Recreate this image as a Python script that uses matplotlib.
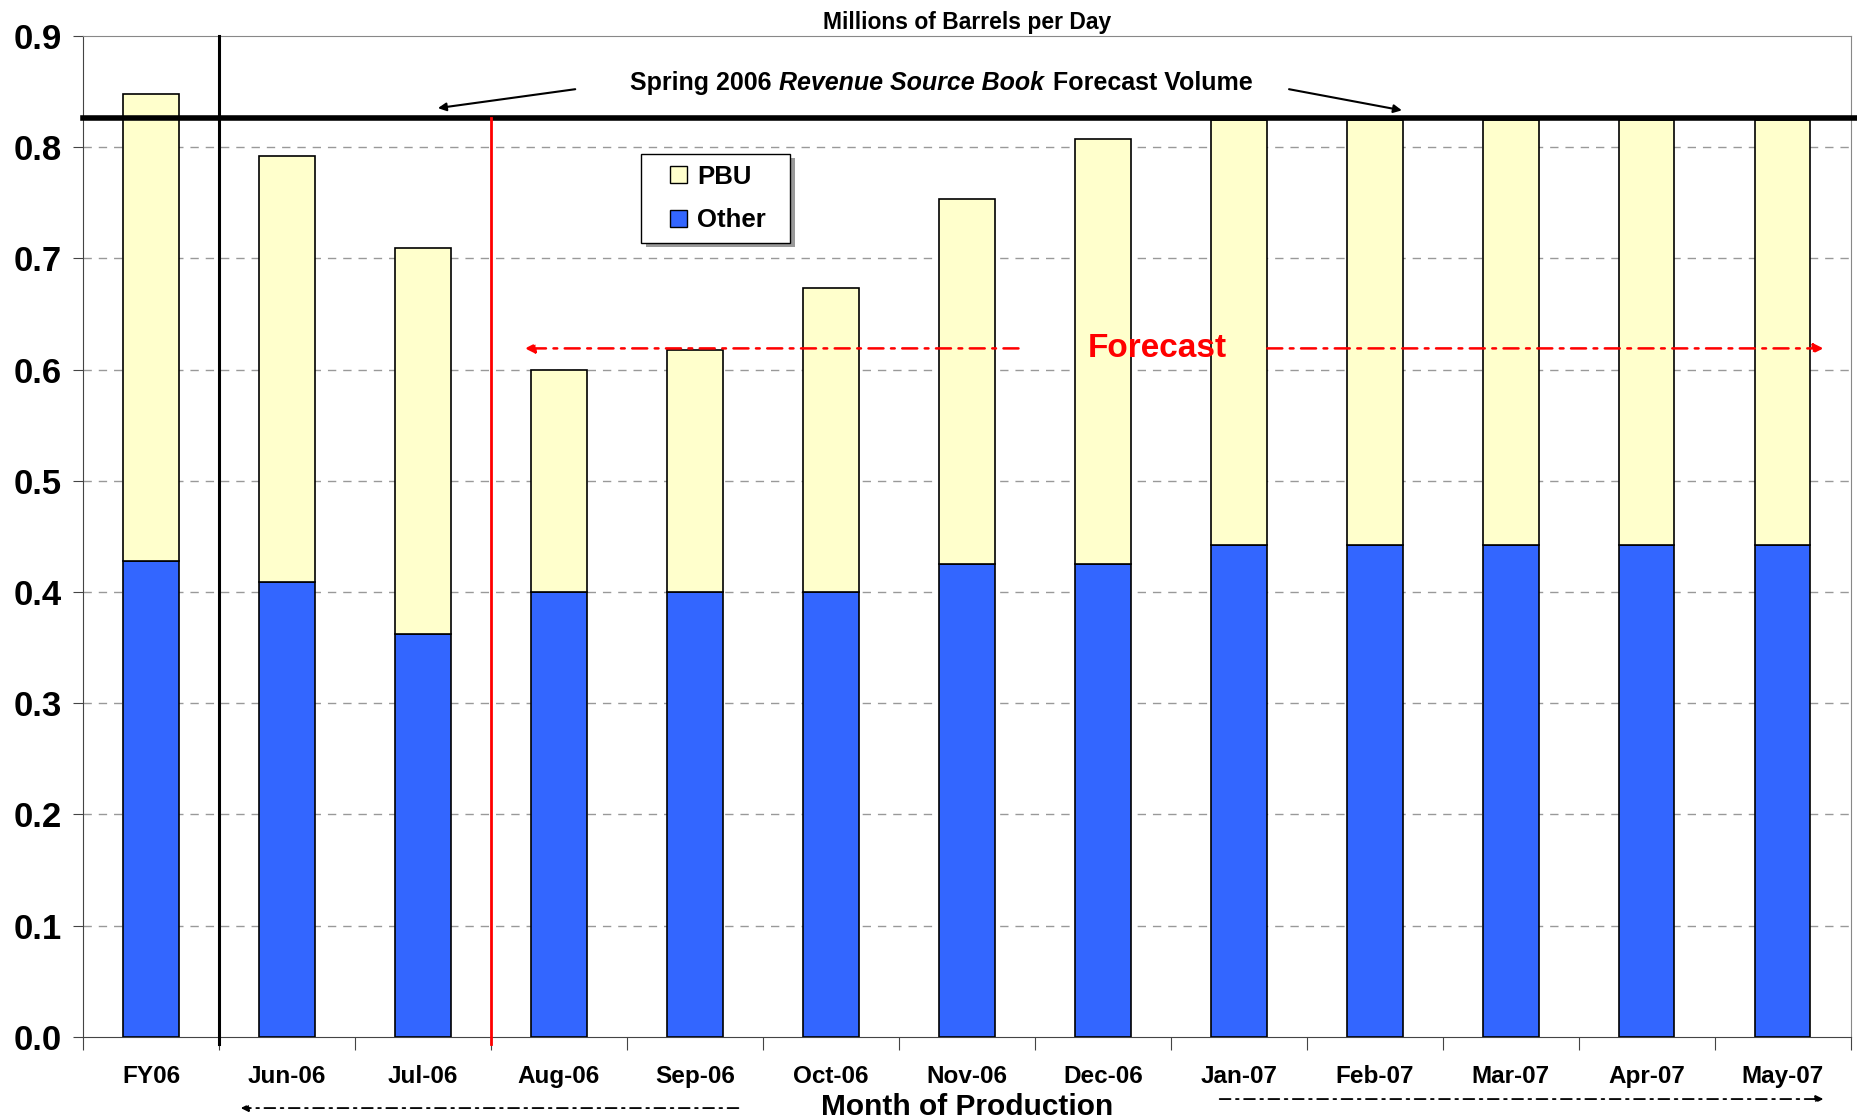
import numpy as np
import matplotlib.pyplot as plt
from matplotlib.patches import Patch, Rectangle
from matplotlib.offsetbox import TextArea, HPacker, AnnotationBbox

months = ['FY06', 'Jun-06', 'Jul-06', 'Aug-06', 'Sep-06', 'Oct-06', 'Nov-06',
          'Dec-06', 'Jan-07', 'Feb-07', 'Mar-07', 'Apr-07', 'May-07']
other = [0.428, 0.409, 0.362, 0.400, 0.400, 0.400, 0.425,
         0.425, 0.442, 0.442, 0.442, 0.442, 0.442]
total = [0.848, 0.792, 0.709, 0.600, 0.618, 0.673, 0.753,
         0.807, 0.824, 0.824, 0.824, 0.824, 0.824]
pbu = [t - o for t, o in zip(total, other)]
rsb_forecast = 0.826

plt.rcParams['font.family'] = ['Liberation Sans', 'DejaVu Sans']

fig = plt.figure(figsize=(18.58, 11.19), dpi=100)
ax = fig.add_axes([0.0447, 0.0733, 0.9513, 0.8947])

x = np.arange(len(months))
ax.bar(x, other, width=0.41, color='#3366FF', edgecolor='black', linewidth=1.2,
       label='Other', zorder=3)
ax.bar(x, pbu, bottom=other, width=0.41, color='#FFFFCC', edgecolor='black',
       linewidth=1.2, label='PBU', zorder=3)

ax.set_xlim(-0.5, len(months) - 0.5)
ax.set_ylim(0, 0.9)
yt = np.arange(0, 0.91, 0.1)
ax.set_yticks(yt)
ax.set_yticklabels(['%.1f' % v for v in yt], fontsize=25, fontweight='bold')
for v in yt[1:-1]:
    ax.axhline(v, color='#999999', linestyle=(0, (6, 5)), linewidth=1, zorder=1)

# category boundaries as major ticks, labels in between
ax.set_xticks(np.arange(-0.5, len(months), 1.0))
ax.set_xticklabels([])
ax.set_xticks(x, minor=True)
ax.set_xticklabels(months, minor=True, fontsize=17.5, fontweight='bold')
ax.tick_params(axis='x', which='major', direction='out', length=9, color='#444444')
ax.tick_params(axis='x', which='minor', length=0, pad=20)
ax.tick_params(axis='y', direction='out', length=7, color='#444444', pad=8)

ax.set_xlabel('Month of Production', fontsize=21.5, fontweight='bold', labelpad=4)
ax.set_title('Millions of Barrels per Day', fontsize=16.5, fontweight='bold', pad=5)

for side in ['top', 'right']:
    ax.spines[side].set_color('#888888')
ax.spines['left'].set_color('#444444')
ax.spines['bottom'].set_color('#444444')

# forecast volume line and dividers
ax.axhline(rsb_forecast, color='black', linewidth=4, zorder=4, clip_on=False,
           xmax=1.005)
ax.plot([0.5, 0.5], [-0.006, 0.9], color='black', linewidth=2.2, zorder=4, clip_on=False)
ax.plot([2.5, 2.5], [-0.006, rsb_forecast], color='red', linewidth=2, zorder=4,
        clip_on=False)

# "Spring 2006 Revenue Source Book Forecast Volume" with the book title in italics
style = dict(fontsize=18, fontweight='bold', color='black')
parts = [TextArea('Spring 2006', textprops=style),
         TextArea('Revenue Source Book', textprops=dict(style, fontstyle='italic')),
         TextArea('Forecast Volume', textprops=style)]
label_box = HPacker(children=parts, align='baseline', pad=0, sep=6)
ax.add_artist(AnnotationBbox(label_box, (5.81, 0.858), frameon=False,
                             box_alignment=(0.5, 0.5), zorder=5))
ax.annotate('', xy=(2.11, 0.835), xytext=(3.12, 0.852),
            arrowprops=dict(arrowstyle='-|>', color='black', lw=1.5,
                            mutation_scale=12, shrinkA=0, shrinkB=0))
ax.annotate('', xy=(9.2, 0.833), xytext=(8.37, 0.852),
            arrowprops=dict(arrowstyle='-|>', color='black', lw=1.5,
                            mutation_scale=12, shrinkA=0, shrinkB=0))

# forecast span
ax.text(7.4, 0.619, 'Forecast', color='red', ha='center', va='center',
        fontsize=24, fontweight='bold', zorder=5)
red_arrow = dict(arrowstyle='-|>', color='red', lw=1.8, linestyle=(0, (6, 3, 1.5, 3)),
                 mutation_scale=14, shrinkA=0, shrinkB=0)
ax.annotate('', xy=(2.75, 0.619), xytext=(6.38, 0.619), arrowprops=red_arrow, zorder=5)
ax.annotate('', xy=(12.3, 0.619), xytext=(8.21, 0.619), arrowprops=red_arrow, zorder=5)

black_arrow = dict(arrowstyle='-|>', color='black', lw=1.3,
                   linestyle=(0, (6, 3, 1.5, 3)), mutation_scale=11,
                   shrinkA=0, shrinkB=0)
ax.annotate('', xy=(0.66, -0.071), xytext=(4.32, -0.071), xycoords=('data', 'axes fraction'),
            textcoords=('data', 'axes fraction'), arrowprops=black_arrow)
ax.annotate('', xy=(12.3, -0.062), xytext=(7.86, -0.062), xycoords=('data', 'axes fraction'),
            textcoords=('data', 'axes fraction'), arrowprops=black_arrow)

# legend box with a light drop shadow
ax.add_patch(Rectangle((0.3185, 0.7895), 0.0843, 0.0888, transform=ax.transAxes,
                       facecolor='#999999', edgecolor='none', zorder=6))
ax.add_patch(Rectangle((0.3157, 0.7929), 0.0843, 0.0888, transform=ax.transAxes,
                       facecolor='white', edgecolor='black', linewidth=1, zorder=6))
handles = [Patch(facecolor='#FFFFCC', edgecolor='black', label='PBU'),
           Patch(facecolor='#3366FF', edgecolor='black', label='Other')]
leg = ax.legend(handles=handles, loc='center left', bbox_to_anchor=(0.332, 0.8375),
                frameon=False, handlelength=0.65, handleheight=0.65, handletextpad=0.4,
                labelspacing=0.75, borderpad=0, borderaxespad=0,
                prop={'weight': 'bold', 'size': 18.5})
leg.set_zorder(7)

fig.savefig('out.png', dpi=100)
